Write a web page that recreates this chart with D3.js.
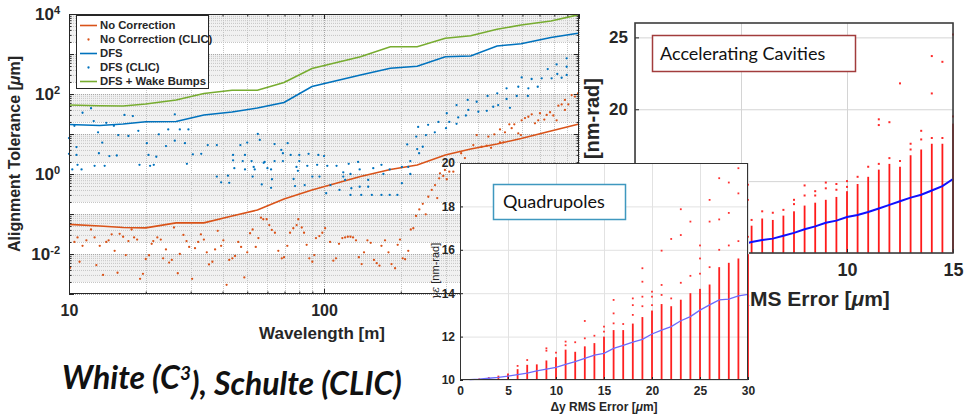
<!DOCTYPE html>
<html>
<head>
<meta charset="utf-8">
<script src="https://cdn.jsdelivr.net/npm/d3@7"></script>
<style>
  html, body { margin: 0; padding: 0; background: #fff; }
  svg { display: block; }
</style>
</head>
<body>
<svg id="chart" width="965" height="414"></svg>
<script>
// ---------------- Alignment tolerance vs wavelength (log-log) ----------------
const wavelength   = [10, 13.2, 16.3, 20, 26.3, 33.8, 43.6, 54.8, 69.7, 89.7, 139, 182, 232, 299, 376, 477, 593, 776, 991];
const noCorrection = [0.055, 0.050, 0.046, 0.045, 0.060, 0.060, 0.089, 0.126, 0.237, 0.398, 0.866, 1.30, 1.68, 2.99, 4.22, 5.62, 7.72, 11.9, 17.5];
const dfs          = [17.3, 16.3, 17.8, 20.3, 20.5, 29.9, 35.5, 44.7, 61.3, 154, 299, 439, 493, 856, 891, 1585, 1809, 2585, 3292];
const dfsWakeBumps = [53, 51, 50, 56, 71, 103, 124, 124, 194, 434, 856, 1522, 1522, 2470, 2868, 4144, 5309, 6683, 9500];

// CLIC points: [wavelength m, tolerance um]
const noCorrectionClic = [
  [10.1,0.0045],[10.5,0.020],[10.8,0.026],[11,0.0064],[11.3,0.016],[11.7,0.022],[12.2,0.041],[12.6,0.026],[12.8,0.0053],
  [13.2,0.016],[13.6,0.0030],[14,0.020],[14.3,0.022],[14.7,0.031],[15.1,0.012],[15.5,0.0034],[15.8,0.032],[16.3,0.027],
  [16.7,0.0094],[17.1,0.021],[17.6,0.041],[18,0.026],[18.5,0.023],[19,0.0024],[19.5,0.0032],[20,0.0075],[20.6,0.0093],
  [21.1,0.018],[21.4,0.021],[22.2,0.026],[22.9,0.023],[23.4,0.0078],[24,0.013],[24.7,0.0061],[25.3,0.0071],[25.8,0.046],
  [26.7,0.0033],[27.2,0.010],[28.1,0.030],[28.9,0.021],[29.6,0.015],[30.4,0.0024],[31.2,0.014],[32.1,0.020],[32.9,0.031],
  [33.8,0.023],[34.7,0.011],[35.4,0.0055],[36.5,0.0064],[37.4,0.013],[38.3,0.038],[39.5,0.016],[40.3,0.022],[41.5,0.0017],
  [42.5,0.0071],[43.7,0.0078],[44.8,0.0089],[46.1,0.020],[47.3,0.015],[48.7,0.0026],[50,0.011],[51.3,0.033],[52.5,0.041],
  [54,0.015],[55.3,0.025],[56.6,0.081],[57.8,0.074],[59.6,0.074],[61,0.053],[62.4,0.040],[64.2,0.034],[66.2,0.012],
  [68.3,0.0078],[69.7,0.0083],[71.8,0.016],[73.6,0.034],[75.8,0.044],[78.1,0.053],[79.3,0.074],[81.8,0.046],[83.5,0.034],
  [85.5,0.017],[87.6,0.0078],[90,0.0064],[91.6,0.0094],[93,0.025],[95.9,0.028],[98.5,0.034],[101,0.044],[105.6,0.020],
  [108.8,0.0068],[111.4,0.0078],[114.5,0.018],[118,0.025],[121,0.026],[124,0.027],[127,0.027],[130,0.026],[133.5,0.022],
  [137,0.0083],[140.5,0.0056],[143.5,0.011],[148,0.022],[152.5,0.019],[157,0.0071],[161,0.0059],[165,0.0051],[168,0.016],
  [173.5,0.022],[179,0.011],[184,0.0056],[190,0.0044],[194.5,0.017],[198.6,0.023],[203.5,0.0078],[208,0.0074],[214,0.012],
  [219,0.041],[224,0.044],[229.5,0.089],[236.5,0.13],[244,0.18],[250.5,0.098],[256.5,0.27],[264.5,0.40],[272.5,0.53],
  [278,0.25],[283,0.78],[293.6,0.89],[303,0.74],[310,1.14],[321.5,1.14],[285,1.04],[298,1.26],[345,3.3],[357,2.5],
  [397,9.4],[385,5.3],[434.5,5.1],[452,4.5],[465.5,9.8],[490,6.2],[505,6.2],[512.5,11],[533,17.5],[544.5,14],[557.5,17.5],
  [578,10.4],[592,9.4],[596,22],[614,25],[633,27],[652.5,31],[672,18.5],[692,22],[703,33],[731,23],[747,30],[770,35],
  [793,29],[817,22],[830,51],[855,55],[881,40],[908,55],[936,94],[964,86],[991,104],[415,4.8],[441,8.6],[490,13],[881,71]
];
const dfsClic = [
  [10,7.9],[10.5,16],[10.7,4.7],[11.3,34],[12.2,44],[12.5,21],[13,11],[13.5,6.1],[14,19],[14.4,2.8],[10,3.2],[10.7,3.0],
  [10.8,1.7],[10.3,1.3],[11.2,1.3],[12.6,1.6],[13.8,1.6],[13.1,3.3],[15.4,2.9],[15,16],[16.5,30],[17.8,28],[15.6,9.4],
  [17.1,8.9],[18.7,12],[18.9,1.7],[20.5,3.0],[20.8,1.6],[21.5,1.7],[20.2,5.9],[22.5,9.8],[24,5.0],[24.5,13],[26,31],
  [26,6.8],[27.2,13],[28.5,5.9],[29.4,13],[30.6,3.1],[33,3.2],[35,5.3],[38,5.3],[44,3.0],[47,5.3],[49,3.0],[50,6.1],
  [53,1.5],[55,10],[56,7.1],[58,1.9],[60,1.4],[64,5.6],[68,4.0],[72,5.9],[74,3.0],[78,1.5],[29,1.8],[38,0.86],[39.5,0.62],
  [42,0.91],[42.5,0.6],[44,2.2],[44.5,1.4],[48,2.1],[49,1.3],[52,2.1],[53.5,1.3],[57,0.55],[58.5,2.0],[62,1.3],[62,0.45],
  [64,2.1],[69,2.1],[76,0.75],[80,2.1],[79,1.2],[84,0.53],[86,1.6],[90,0.86],[94,1.7],[96,0.86],[100,2.8],[22,2.7],
  [52.5,0.86],[62.5,0.74],[77,0.5],[69,3.3],[80,3.0],[87,3.2],[95,3.0],[103,1.6],[102,0.33],[112,1.6],[115,0.4],[119,1.1],
  [121,0.71],[125,1.8],[127,1.0],[128,0.44],[136,2.0],[138,1.3],[140,0.30],[149,0.71],[154,0.30],[156,1.4],[168,1.7],
  [168,0.30],[171,1.0],[181,1.3],[181,0.30],[194,0.30],[202,1.5],[214,1.5],[218,2.1],[106,0.53],[119,0.86],[138,0.48],
  [149,0.48],[202,0.59],[218,1.0],[127,0.30],[212,5.5],[230,8.6],[234,15],[232,4.2],[236,3.3],[251,9.4],[256,17],[272,11],
  [281,20],[303,33],[301,14],[310,20],[331,53],[331,18],[336,26],[360,29],[366,71],[368,40],[397,64],[403,36],[435,38],
  [438,89],[482,53],[478,104],[520,139],[520,75],[536,45],[570,89],[578,152],[596,260],[633,139],[630,89],[652,237],
  [689,152],[714,247],[754,420],[781,247],[817,550],[822,316],[855,255],[895,780],[895,480],[895,300],[461,48],[244,4.8]
];
const wavelengthTicks = [10, 100, 1000];
const toleranceTicks  = [1e-2, 1, 1e2, 1e4];
const legendLabels = ["No Correction", "No Correction (CLIC)", "DFS", "DFS (CLIC)", "DFS + Wake Bumps"];

// ---------------- Accelerating cavities: emittance vs RMS error ----------------
const cavError = [0.5,1,1.5,2,2.5,3,3.5,4,4.5,5,5.5,6,6.5,7,7.5,8,8.5,9,9.5,10,10.5,11,11.5,12,12.5,13,13.5,14,14.5,15];
const cavMean  = [10.0,10.02,10.05,10.08,10.12,10.17,10.25,10.33,10.45,10.58,10.76,10.9,11.0,11.2,11.4,11.65,11.85,12.1,12.25,12.5,12.65,12.85,13.1,13.35,13.6,13.85,14.05,14.35,14.65,15.15];
const cavBulkTop = [10.1,10.2,10.3,10.4,10.6,10.8,11.0,11.2,11.4,11.6,11.9,12.4,12.3,12.6,12.9,13.3,13.5,13.7,13.9,14.3,14.8,15.3,15.8,16.2,16.0,16.8,17.2,17.6,17.6,19.0];
const cavOutliers = [
  [5.5,12.3],[6,12.9],[6.5,12.8],[7,13.0],[7.5,13.7],[7.5,13.4],[8,14.7],[8,14.0],[8.5,14.3],[8.5,14.0],[9,14.5],[9,14.9],
  [9.5,14.4],[9.5,14.8],[10,15.0],[10,14.6],[10.5,15.3],[11,16.0],[11.5,19.3],[11.5,18.9],[11.5,16.2],[12,19.1],[12,16.6],
  [12.5,21.8],[12.5,16.4],[13,17.6],[13,17.2],[13.5,18.5],[13.5,17.9],[14,23.7],[14,21.1],[14,18.0],[14.5,23.3],[14.5,18.0],
  [15,25.2],[15,19.5]
];
const cavXTicks = [0, 5, 10, 15];
const cavYTicks = [10, 15, 20, 25];

// ---------------- Quadrupoles: emittance vs RMS error ----------------
const quadError = [1,2,3,4,5,6,7,8,9,10,11,12,13,14,15,16,17,18,19,20,21,22,23,24,25,26,27,28,29,30];
const quadMean  = [10.02,10.04,10.08,10.12,10.18,10.25,10.32,10.42,10.5,10.58,10.72,10.85,11.0,11.15,11.23,11.46,11.6,11.75,11.87,12.12,12.3,12.46,12.73,12.92,13.22,13.46,13.69,13.73,13.88,13.95];
const quadBulkTop = [10.04,10.07,10.13,10.2,10.3,10.5,10.7,10.72,10.9,11.05,11.4,11.3,11.55,11.7,12.0,12.3,12.3,12.6,12.9,13.2,13.5,13.4,13.7,14.0,14.2,14.4,15.2,15.4,15.6,15.8];
const quadOutliers = [
  [6,10.65],[7,10.92],[9,11.35],[9,11.46],[10,11.26],[11,11.6],[11,11.77],[12,11.74],[13,11.92],[13,12.72],[14,12.04],
  [15,12.23],[15,12.46],[16,12.61],[16,13.07],[16,13.69],[17,12.58],[18,13.0],[18,13.45],[18,13.76],[19,13.4],[19,13.84],
  [19,14.53],[19,15.15],[20,13.45],[20,13.84],[20,14.07],[21,13.92],[21,14.38],[21,15.96],[22,13.76],[22,16.5],[23,14.48],
  [23,16.68],[23,17.87],[24,14.8],[24,17.3],[25,14.9],[25,15.6],[25,16.2],[26,15.2],[26,17.3],[26,18.3],[27,16.0],[27,17.4],
  [27,19.3],[28,16.2],[28,17.7],[28,19.1],[29,16.4],[29,18.6],[29,19.76],[30,16.6],[30,18.3],[30,19.0]
];
const quadXTicks = [0, 5, 10, 15, 20, 25, 30];
const quadYTicks = [10, 12, 14, 16, 18, 20];

// ---------------- shared styling ----------------
const SANS = "'Liberation Sans', Arial, Helvetica, sans-serif";
const LATO = "Lato, 'Open Sans', sans-serif";
const INK = "#262626";
const ORANGE = "#D95319", BLUE = "#0072BD", GREEN = "#77AC30";

const svg = d3.select("#chart");

function styleAxis(g, size) {
  g.select(".domain").remove();
  g.selectAll(".tick line").attr("stroke", INK).attr("stroke-width", 1);
  g.selectAll(".tick text")
    .attr("fill", INK)
    .attr("font-family", SANS)
    .attr("font-weight", "bold")
    .attr("font-size", size + "px");
}

// =====================================================================
// Panel 1
// =====================================================================
const p1 = { l: 69, r: 579, t: 14, b: 294 };
const x1 = d3.scaleLog().domain([10, 1000]).range([p1.l, p1.r]);
const y1 = d3.scaleLog().domain([1e-3, 1e4]).range([p1.b, p1.t]);
const g1 = svg.append("g");

g1.append("rect").attr("x", p1.l).attr("y", p1.t)
  .attr("width", p1.r - p1.l).attr("height", p1.b - p1.t).attr("fill", "#fff");

// log grid: decades and their 2..9 subdivisions
const yDecades = d3.range(-3, 5).map(e => Math.pow(10, e));
const yMinor = [];
d3.range(-3, 4).forEach(e => d3.range(2, 10).forEach(k => yMinor.push(k * Math.pow(10, e))));
const xDecades = [10, 100, 1000];
const xMinor = [];
[10, 100].forEach(b => d3.range(2, 10).forEach(k => xMinor.push(k * b)));

const grid1 = g1.append("g");
// the tightly packed 2..9 gridlines read as a light grey band in each decade
grid1.selectAll("rect.band").data(d3.range(-3, 4)).join("rect")
  .attr("x", p1.l).attr("width", p1.r - p1.l)
  .attr("y", e => y1(Math.pow(10, e + 1)))
  .attr("height", e => y1(2 * Math.pow(10, e)) - y1(Math.pow(10, e + 1)))
  .attr("fill", "#f1f1f1");
grid1.selectAll("line.ym").data(yMinor).join("line")
  .attr("x1", p1.l).attr("x2", p1.r)
  .attr("y1", d => y1(d) + 0.5).attr("y2", d => y1(d) + 0.5)
  .attr("stroke", "#c4c4c4").attr("stroke-width", 1).attr("stroke-dasharray", "1,1");
grid1.selectAll("line.xm").data(xMinor).join("line")
  .attr("y1", p1.t).attr("y2", p1.b)
  .attr("x1", d => Math.round(x1(d)) + 0.5).attr("x2", d => Math.round(x1(d)) + 0.5)
  .attr("stroke", "#c4c4c4").attr("stroke-width", 1).attr("stroke-dasharray", "1,1");
grid1.selectAll("line.yM").data(yDecades).join("line")
  .attr("x1", p1.l).attr("x2", p1.r)
  .attr("y1", d => y1(d) + 0.5).attr("y2", d => y1(d) + 0.5)
  .attr("stroke", "#a8a8a8").attr("stroke-width", 1).attr("stroke-dasharray", "1,1");
grid1.selectAll("line.xM").data(xDecades).join("line")
  .attr("y1", p1.t).attr("y2", p1.b)
  .attr("x1", d => Math.round(x1(d)) + 0.5).attr("x2", d => Math.round(x1(d)) + 0.5)
  .attr("stroke", "#a8a8a8").attr("stroke-width", 1).attr("stroke-dasharray", "1,1");

// series lines
const line1 = d3.line().x(d => x1(d[0])).y(d => y1(d[1]));
const zip = (xs, ys) => xs.map((v, i) => [v, ys[i]]);
g1.append("path").datum(zip(wavelength, noCorrection)).attr("d", line1)
  .attr("fill", "none").attr("stroke", ORANGE).attr("stroke-width", 1.6);
g1.append("path").datum(zip(wavelength, dfs)).attr("d", line1)
  .attr("fill", "none").attr("stroke", BLUE).attr("stroke-width", 1.6);
g1.append("path").datum(zip(wavelength, dfsWakeBumps)).attr("d", line1)
  .attr("fill", "none").attr("stroke", GREEN).attr("stroke-width", 1.6);

// CLIC points
g1.selectAll("circle.nc").data(noCorrectionClic).join("circle")
  .attr("cx", d => x1(d[0])).attr("cy", d => y1(d[1])).attr("r", 1.15).attr("fill", ORANGE);
g1.selectAll("circle.df").data(dfsClic).join("circle")
  .attr("cx", d => x1(d[0])).attr("cy", d => y1(d[1])).attr("r", 1.15).attr("fill", BLUE);

// axes (ticks pointing inward, box on all four sides)
g1.append("g").attr("transform", `translate(${p1.l},0)`)
  .call(d3.axisLeft(y1).tickValues(yMinor).tickSize(-2.5).tickFormat(""))
  .call(g => styleAxis(g, 12));
g1.append("g").attr("transform", `translate(${p1.r},0)`)
  .call(d3.axisRight(y1).tickValues(yMinor).tickSize(-2.5).tickFormat(""))
  .call(g => styleAxis(g, 12));
g1.append("g").attr("transform", `translate(${p1.r},0)`)
  .call(d3.axisRight(y1).tickValues(yDecades).tickSize(-5).tickFormat(""))
  .call(g => styleAxis(g, 12));
g1.append("g").attr("transform", `translate(${p1.l},0)`)
  .call(d3.axisLeft(y1).tickValues(yDecades).tickSize(-5).tickFormat(""))
  .call(g => styleAxis(g, 12));
const yAx1 = g1.append("g").attr("transform", `translate(${p1.l},0)`)
  .call(d3.axisLeft(y1).tickValues(toleranceTicks).tickSize(0).tickPadding(9).tickFormat(""))
  .call(g => styleAxis(g, 17));
yAx1.selectAll(".tick text").each(function (d) {
  const t = d3.select(this);
  t.append("tspan").text("10");
  t.append("tspan").attr("dy", "-0.55em").attr("font-size", "11px").text(String(Math.round(Math.log10(d))));
});
g1.append("g").attr("transform", `translate(0,${p1.b})`)
  .call(d3.axisBottom(x1).tickValues(xMinor).tickSize(-2.5).tickFormat(""))
  .call(g => styleAxis(g, 12));
g1.append("g").attr("transform", `translate(0,${p1.t})`)
  .call(d3.axisTop(x1).tickValues(xMinor).tickSize(-2.5).tickFormat(""))
  .call(g => styleAxis(g, 12));
g1.append("g").attr("transform", `translate(0,${p1.t})`)
  .call(d3.axisTop(x1).tickValues(xDecades).tickSize(-5).tickFormat(""))
  .call(g => styleAxis(g, 12));
g1.append("g").attr("transform", `translate(0,${p1.b})`)
  .call(d3.axisBottom(x1).tickValues(wavelengthTicks).tickSize(-5).tickPadding(11).tickFormat(d3.format("d")))
  .call(g => styleAxis(g, 16));
g1.append("rect").attr("x", p1.l + 0.5).attr("y", p1.t + 0.5)
  .attr("width", p1.r - p1.l - 1).attr("height", p1.b - p1.t - 1)
  .attr("fill", "none").attr("stroke", INK).attr("stroke-width", 1);

// axis titles
g1.append("text").attr("x", 322).attr("y", 339).attr("text-anchor", "middle")
  .attr("font-family", SANS).attr("font-weight", "bold").attr("font-size", "17px").attr("fill", INK)
  .text("Wavelength [m]");
const yt1 = g1.append("text").attr("transform", "translate(20,154) rotate(-90)").attr("text-anchor", "middle")
  .attr("font-family", SANS).attr("font-weight", "bold").attr("font-size", "16px").attr("fill", INK);
yt1.append("tspan").text("Alignment Tolerance [");
yt1.append("tspan").attr("font-style", "italic").text("\u03bc");
yt1.append("tspan").text("m]");

// legend
const lg = g1.append("g");
lg.append("rect").attr("x", 76.5).attr("y", 15.5).attr("width", 132).attr("height", 73)
  .attr("fill", "#fff").attr("stroke", INK).attr("stroke-width", 1);
const legendKinds = [
  { kind: "line", color: ORANGE }, { kind: "dot", color: ORANGE },
  { kind: "line", color: BLUE }, { kind: "dot", color: BLUE }, { kind: "line", color: GREEN }
];
legendLabels.forEach((lab, i) => {
  const yy = 25.5 + i * 14;
  const k = legendKinds[i];
  if (k.kind === "line") {
    lg.append("line").attr("x1", 80).attr("x2", 97).attr("y1", yy).attr("y2", yy)
      .attr("stroke", k.color).attr("stroke-width", 1.6);
  } else {
    lg.append("circle").attr("cx", 88.5).attr("cy", yy).attr("r", 1.15).attr("fill", k.color);
  }
  lg.append("text").attr("x", 100).attr("y", yy).attr("dy", "0.35em")
    .attr("font-family", SANS).attr("font-weight", "bold").attr("font-size", "11.3px").attr("fill", INK)
    .text(lab);
});

// =====================================================================
// Panel 2: accelerating cavities
// =====================================================================
const p2 = { l: 635, r: 953, t: 23, b: 253 };
const x2 = d3.scaleLinear().domain([0, 15]).range([p2.l, p2.r]);
const y2 = d3.scaleLinear().domain([10, 26]).range([p2.b, p2.t]);
const g2 = svg.append("g");
g2.append("rect").attr("x", p2.l).attr("y", p2.t).attr("width", p2.r - p2.l).attr("height", p2.b - p2.t).attr("fill", "#fff");
g2.append("g").attr("transform", `translate(0,${p2.b})`)
  .call(d3.axisBottom(x2).tickValues(cavXTicks).tickSize(-(p2.b - p2.t)).tickFormat(""))
  .call(g => { styleAxis(g, 12); g.selectAll(".tick line").attr("stroke", "#d4d4d4"); });
g2.append("g").attr("transform", `translate(${p2.l},0)`)
  .call(d3.axisLeft(y2).tickValues(cavYTicks).tickSize(-(p2.r - p2.l)).tickFormat(""))
  .call(g => { styleAxis(g, 12); g.selectAll(".tick line").attr("stroke", "#d4d4d4"); });

g2.selectAll("rect.bulk").data(zip(cavError, cavBulkTop)).join("rect")
  .attr("x", d => x2(d[0]) - 0.9).attr("width", 1.8)
  .attr("y", d => y2(d[1])).attr("height", d => y2(10) - y2(d[1]))
  .attr("fill", "#ff1a1a");
g2.selectAll("rect.out").data(cavOutliers).join("rect")
  .attr("x", d => x2(d[0]) - 1).attr("y", d => y2(d[1]) - 1).attr("width", 2).attr("height", 2)
  .attr("fill", "#ff2a2a");
g2.append("path").datum(zip(cavError, cavMean))
  .attr("d", d3.line().x(d => x2(d[0])).y(d => y2(d[1])))
  .attr("fill", "none").attr("stroke", "#1010ff").attr("stroke-width", 2);

g2.append("g").attr("transform", `translate(${p2.l},0)`)
  .call(d3.axisLeft(y2).tickValues(cavYTicks).tickSize(-4).tickPadding(7))
  .call(g => styleAxis(g, 17));
g2.append("g").attr("transform", `translate(0,${p2.b})`)
  .call(d3.axisBottom(x2).tickValues(cavXTicks).tickSize(-4).tickPadding(10))
  .call(g => styleAxis(g, 18));
g2.append("rect").attr("x", p2.l).attr("y", p2.t).attr("width", p2.r - p2.l).attr("height", p2.b - p2.t)
  .attr("fill", "none").attr("stroke", "#3c3c3c").attr("stroke-width", 1.6);

const xt2 = g2.append("text").attr("x", 796).attr("y", 306).attr("text-anchor", "middle")
  .attr("font-family", SANS).attr("font-weight", "bold").attr("font-size", "21px").attr("fill", INK);
xt2.append("tspan").text("\u0394y RMS Error [");
xt2.append("tspan").attr("font-style", "italic").text("\u03bc");
xt2.append("tspan").text("m]");
const yt2 = g2.append("text").attr("transform", "translate(599,78) rotate(-90)").attr("text-anchor", "end")
  .attr("font-family", SANS).attr("font-weight", "bold").attr("font-size", "20px").attr("fill", INK);
yt2.append("tspan").attr("font-style", "italic").text("\u03b3\u03b5");
yt2.append("tspan").text(" [nm-rad]");

g2.append("rect").attr("x", 652.5).attr("y", 35.5).attr("width", 203).attr("height", 36)
  .attr("fill", "#fff").attr("stroke", "#a23c3c").attr("stroke-width", 1.5);
g2.append("text").attr("x", 660).attr("y", 53.5).attr("dy", "0.35em")
  .attr("font-family", LATO).attr("font-size", "18px").attr("fill", "#111").text("Accelerating Cavities");

// =====================================================================
// Panel 3: quadrupoles
// =====================================================================
const p3 = { l: 460, r: 748, t: 163, b: 380 };
const x3 = d3.scaleLinear().domain([0, 30]).range([p3.l, p3.r]);
const y3 = d3.scaleLinear().domain([10, 20]).range([p3.b, p3.t]);
const g3 = svg.append("g");
g3.append("rect").attr("x", p3.l).attr("y", p3.t).attr("width", p3.r - p3.l).attr("height", p3.b - p3.t).attr("fill", "#fff");
g3.append("g").attr("transform", `translate(0,${p3.b})`)
  .call(d3.axisBottom(x3).tickValues(quadXTicks).tickSize(-(p3.b - p3.t)).tickFormat(""))
  .call(g => { styleAxis(g, 12); g.selectAll(".tick line").attr("stroke", "#e2e2e2"); });
g3.append("g").attr("transform", `translate(${p3.l},0)`)
  .call(d3.axisLeft(y3).tickValues(quadYTicks).tickSize(-(p3.r - p3.l)).tickFormat(""))
  .call(g => { styleAxis(g, 12); g.selectAll(".tick line").attr("stroke", "#e2e2e2"); });

g3.selectAll("rect.bulk").data(zip(quadError, quadBulkTop)).join("rect")
  .attr("x", d => x3(d[0]) - 0.9).attr("width", 1.8)
  .attr("y", d => y3(d[1])).attr("height", d => y3(10) - y3(d[1]))
  .attr("fill", "#ff2020");
g3.selectAll("rect.out").data(quadOutliers).join("rect")
  .attr("x", d => x3(d[0]) - 0.9).attr("y", d => y3(d[1]) - 0.9).attr("width", 1.8).attr("height", 1.8)
  .attr("fill", "#ff3030");
g3.append("path").datum(zip(quadError, quadMean))
  .attr("d", d3.line().x(d => x3(d[0])).y(d => y3(d[1])))
  .attr("fill", "none").attr("stroke", "#6a6aff").attr("stroke-width", 1.3);

g3.append("g").attr("transform", `translate(${p3.l},0)`)
  .call(d3.axisLeft(y3).tickValues(quadYTicks).tickSize(-3).tickPadding(5))
  .call(g => styleAxis(g, 12));
g3.append("g").attr("transform", `translate(0,${p3.b})`)
  .call(d3.axisBottom(x3).tickValues(quadXTicks).tickSize(-3).tickPadding(6))
  .call(g => styleAxis(g, 12));
g3.append("rect").attr("x", p3.l + 0.5).attr("y", p3.t + 0.5).attr("width", p3.r - p3.l - 1).attr("height", p3.b - p3.t - 1)
  .attr("fill", "none").attr("stroke", "#333").attr("stroke-width", 1);

const xt3 = g3.append("text").attr("x", 604).attr("y", 411).attr("text-anchor", "middle")
  .attr("font-family", SANS).attr("font-weight", "bold").attr("font-size", "12px").attr("fill", INK);
xt3.append("tspan").text("\u0394y RMS Error [");
xt3.append("tspan").attr("font-style", "italic").text("\u03bc");
xt3.append("tspan").text("m]");
const yt3 = g3.append("text").attr("transform", "translate(439,271) rotate(-90)").attr("text-anchor", "middle")
  .attr("font-family", SANS).attr("font-size", "11px").attr("fill", INK);
yt3.append("tspan").attr("font-style", "italic").attr("font-family", "'DejaVu Serif', serif").text("\u03b3\u03b5");
yt3.append("tspan").text(" [nm-rad]");

g3.append("rect").attr("x", 493.5).attr("y", 184.5).attr("width", 132).attr("height", 35)
  .attr("fill", "#fff").attr("stroke", "#3f98bf").attr("stroke-width", 1.5);
g3.append("text").attr("x", 503).attr("y", 202).attr("dy", "0.35em")
  .attr("font-family", LATO).attr("font-size", "18px").attr("fill", "#111").text("Quadrupoles");

// =====================================================================
// Credit line
// =====================================================================
const credit = svg.append("text").attr("x", 62).attr("y", 389)
  .attr("font-family", LATO).attr("font-weight", "bold").attr("font-style", "italic")
  .attr("font-size", "32px").attr("fill", "#111");
credit.append("tspan").text("White (C");
credit.append("tspan").attr("dy", "-0.45em").attr("font-size", "19px").text("3");
credit.append("tspan").attr("dy", "0.45em").text("), Schulte (CLIC)");
</script>
</body>
</html>
